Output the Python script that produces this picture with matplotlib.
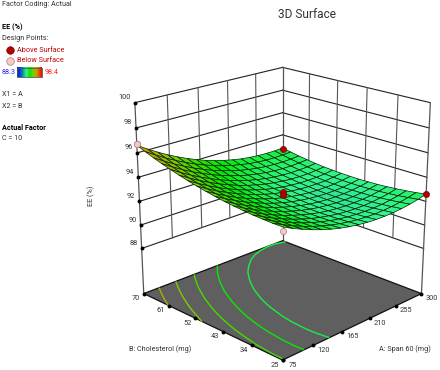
import numpy as np
import matplotlib
matplotlib.use('Agg')
import matplotlib.pyplot as plt
from matplotlib.colors import LinearSegmentedColormap
from mpl_toolkits.mplot3d import proj3d

plt.rcParams['font.family'] = ['Roboto', 'DejaVu Sans']

# tick labels
a_ticks = [75, 120, 165, 210, 255, 300]
b_ticks = [25, 34, 43, 52, 61, 70]
z_ticks = [88, 90, 92, 94, 96, 98, 100]

# surface, one row per cholesterol step (25 -> 70)
a_grid = np.linspace(75, 300, 17)
b_grid = np.linspace(25, 70, 17)
ee = [
    [94.31, 93.92, 93.57, 93.26, 92.98, 92.74, 92.54, 92.38, 92.26, 92.17, 92.12, 92.11, 92.13, 92.19, 92.29, 92.43, 92.61],
    [94.31, 93.92, 93.56, 93.24, 92.96, 92.71, 92.50, 92.33, 92.20, 92.10, 92.04, 92.02, 92.04, 92.09, 92.19, 92.32, 92.48],
    [94.34, 93.93, 93.57, 93.24, 92.95, 92.69, 92.48, 92.30, 92.16, 92.05, 91.99, 91.96, 91.97, 92.01, 92.10, 92.22, 92.38],
    [94.38, 93.97, 93.60, 93.26, 92.96, 92.70, 92.47, 92.29, 92.14, 92.02, 91.95, 91.91, 91.91, 91.95, 92.03, 92.14, 92.29],
    [94.45, 94.03, 93.64, 93.30, 92.99, 92.72, 92.49, 92.29, 92.13, 92.01, 91.93, 91.89, 91.88, 91.91, 91.97, 92.08, 92.22],
    [94.53, 94.10, 93.71, 93.35, 93.04, 92.76, 92.52, 92.31, 92.15, 92.02, 91.93, 91.88, 91.86, 91.88, 91.94, 92.04, 92.17],
    [94.62, 94.19, 93.79, 93.43, 93.10, 92.82, 92.57, 92.36, 92.18, 92.04, 91.94, 91.88, 91.86, 91.87, 91.92, 92.01, 92.14],
    [94.74, 94.30, 93.89, 93.52, 93.19, 92.89, 92.63, 92.41, 92.23, 92.09, 91.98, 91.91, 91.88, 91.88, 91.92, 92.01, 92.12],
    [94.88, 94.42, 94.01, 93.63, 93.29, 92.99, 92.72, 92.49, 92.30, 92.15, 92.03, 91.95, 91.91, 91.91, 91.94, 92.02, 92.13],
    [95.03, 94.57, 94.14, 93.76, 93.41, 93.10, 92.82, 92.59, 92.39, 92.23, 92.10, 92.02, 91.97, 91.96, 91.98, 92.05, 92.15],
    [95.20, 94.73, 94.30, 93.90, 93.55, 93.23, 92.94, 92.70, 92.49, 92.32, 92.19, 92.10, 92.04, 92.02, 92.04, 92.09, 92.19],
    [95.39, 94.91, 94.47, 94.07, 93.70, 93.38, 93.08, 92.83, 92.62, 92.44, 92.30, 92.20, 92.13, 92.10, 92.11, 92.16, 92.24],
    [95.60, 95.11, 94.66, 94.25, 93.88, 93.54, 93.24, 92.98, 92.76, 92.57, 92.42, 92.31, 92.24, 92.20, 92.21, 92.24, 92.32],
    [95.82, 95.33, 94.87, 94.45, 94.07, 93.73, 93.42, 93.15, 92.92, 92.72, 92.57, 92.45, 92.37, 92.32, 92.32, 92.35, 92.42],
    [96.06, 95.56, 95.10, 94.67, 94.28, 93.93, 93.61, 93.34, 93.10, 92.89, 92.73, 92.60, 92.51, 92.46, 92.44, 92.47, 92.53],
    [96.33, 95.82, 95.34, 94.91, 94.51, 94.15, 93.83, 93.54, 93.29, 93.08, 92.91, 92.77, 92.67, 92.61, 92.59, 92.61, 92.66],
    [96.61, 96.09, 95.61, 95.16, 94.76, 94.39, 94.06, 93.76, 93.51, 93.29, 93.11, 92.96, 92.86, 92.79, 92.76, 92.76, 92.81],
]
contour_levels = [92.75, 93.5, 94.25, 95.0, 95.8]

# design points
above_a = [300, 300, 187.5, 187.5]
above_b = [70, 25, 47.5, 47.5]
above_ee = [92.7, 92.6, 92.8, 92.55]
below_a = [75, 75]
below_b = [70, 25]
below_ee = [96.7, 94.0]

ee_min = 88.3
ee_max = 98.4
floor_z = 84.05
top_z = 100

cmap = LinearSegmentedColormap.from_list('ee', [
    (0.0, (0, 0, 1)),
    (0.2, (0, 0.5, 0.65)),
    (0.37, (0.2, 0.96, 0.55)),
    (0.5, (0, 0.92, 0)),
    (0.66, (0.5, 0.8, 0)),
    (0.8, (0.8, 0.6, 0)),
    (1.0, (1, 0, 0)),
])

W, H = 440, 370
fig = plt.figure(figsize=(W / 100, H / 100), dpi=100)

S = 341
ax = fig.add_axes([107.5 / W, -6.2 / H, S / W, S / H], projection='3d')
ax.set_proj_type('persp', focal_length=0.62)
ax.view_init(elev=20.4, azim=-135)
ax.set_box_aspect((1, 1, 1.005))
ax.set_xlim(75, 300)
ax.set_ylim(25, 70)
ax.set_zlim(floor_z, top_z)
ax.set_axis_off()
ax.computed_zorder = False
ax.patch.set_alpha(0)

a0, a1 = a_ticks[0], a_ticks[-1]
b0, b1 = b_ticks[0], b_ticks[-1]
line_col = '#222222'
vert_col = '#555555'

# walls
for z in z_ticks:
    ax.plot([a0, a1], [b1, b1], [z, z], color=line_col, lw=0.8, zorder=1)
    ax.plot([a1, a1], [b1, b0], [z, z], color=line_col, lw=0.8, zorder=1)
for a in a_ticks[1:-1]:
    ax.plot([a, a], [b1, b1], [88, top_z], color=vert_col, lw=0.8, zorder=1)
for b in b_ticks[1:-1]:
    ax.plot([a1, a1], [b, b], [88, top_z], color=vert_col, lw=0.8, zorder=1)
for a, b in [(a0, b1), (a1, b1), (a1, b0)]:
    ax.plot([a, a], [b, b], [floor_z, top_z], color=vert_col, lw=0.9, zorder=1)

# floor with contours
fx, fy = np.meshgrid([a0, a1], [b0, b1])
ax.plot_surface(fx, fy, np.full_like(fx, floor_z, dtype=float), color='#5f5f5f',
                shade=False, linewidth=0, zorder=2)
ax.plot([a0, a1, a1, a0, a0], [b0, b0, b1, b1, b0], [floor_z] * 5, color='#111111', lw=0.9, zorder=3)

X, Y = np.meshgrid(a_grid, b_grid)
Z = np.array(ee)
ax.contour(X, Y, Z, levels=contour_levels, zdir='z', offset=floor_z, cmap=cmap,
           vmin=ee_min, vmax=ee_max, linewidths=1.0, zorder=4)

# ticks
ax.plot(a_ticks, [b0] * 6, [floor_z] * 6, 'o', color='k', ms=1.8, zorder=5)
ax.plot([a0] * 6, b_ticks, [floor_z] * 6, 'o', color='k', ms=1.8, zorder=5)
ax.plot([a0] * 7, [b1] * 7, z_ticks, 'o', color='k', ms=1.8, zorder=5)

# pink points sit under the mesh
ax.plot(below_a, below_b, below_ee, 'o', mfc='#f7c6c6', mec='#b08080', mew=0.5, ms=4.5, zorder=6)
ax.plot_surface(X, Y, Z, cmap=cmap, vmin=ee_min, vmax=ee_max, rstride=1, cstride=1,
                shade=False, edgecolor='#04200a', linewidth=0.5, zorder=7)
ax.plot(above_a, above_b, above_ee, 'o', mfc='#b00000', mec='#700000', mew=0.4, ms=4.5, zorder=8)
ax.plot(below_a[:1], below_b[:1], below_ee[:1], 'o', mfc='#f7c6c6', mec='#b08080', mew=0.5, ms=4.5, zorder=8)

txt = '#333333'


def tick_label(x, y, z, s, dx, dy, ha):
    xp, yp, _ = proj3d.proj_transform(x, y, z, ax.get_proj())
    ax.annotate(s, xy=(xp, yp), xytext=(dx, dy), textcoords='offset pixels',
                ha=ha, va='center', fontsize=5.3, color=txt)


for a in a_ticks:
    tick_label(a, b0, floor_z, str(a), 10, -5, 'center')
for b in b_ticks:
    tick_label(a0, b, floor_z, str(b), -8, -5, 'center')
for z in z_ticks:
    tick_label(a0, b1, z, str(z), -4, 5, 'right')

# text and legend, in picture pixels
over = fig.add_axes([0, 0, 1, 1], zorder=10)
over.set_xlim(0, W)
over.set_ylim(H, 0)
over.axis('off')
over.patch.set_alpha(0)


def label(x, y, s, **kw):
    kw.setdefault('fontsize', 5.2)
    kw.setdefault('color', txt)
    over.text(x, y, s, va='center', **kw)


label(307, 14, '3D Surface', fontsize=8.6, ha='center')
label(2, 5, 'Factor Coding: Actual')
label(2, 27, 'EE (%)', fontweight='bold', color='k')
label(2, 38, 'Design Points:')
label(17, 50, 'Above Surface', color='#c00000')
label(17, 61, 'Below Surface', color='#c00000')
label(2, 72, '88.3', color='#2222ff')
label(45, 72, '98.4', color='#ff2222')
label(2, 94, 'X1 = A')
label(2, 106, 'X2 = B')
label(2, 128, 'Actual Factor', fontweight='bold', color='k')
label(2, 139, 'C = 10')
label(91, 196, 'EE (%)', rotation=90, ha='center')
label(160, 349, 'B: Cholesterol (mg)', ha='center')
label(405, 349, 'A: Span 60 (mg)', ha='center')

over.plot([10], [50], 'o', mfc='#b00000', mec='#700000', mew=0.4, ms=5.5)
over.plot([10], [61], 'o', mfc='#f7c6c6', mec='#b08080', mew=0.5, ms=5.5)
over.imshow(np.linspace(0, 1, 64).reshape(1, -1), cmap=cmap, extent=(17, 42, 77, 67.5), aspect='auto')
over.plot([17, 42, 42, 17, 17], [67.5, 67.5, 77, 77, 67.5], color='#555555', lw=0.6)
over.set_xlim(0, W)
over.set_ylim(H, 0)

fig.savefig('out.png', dpi=100)
